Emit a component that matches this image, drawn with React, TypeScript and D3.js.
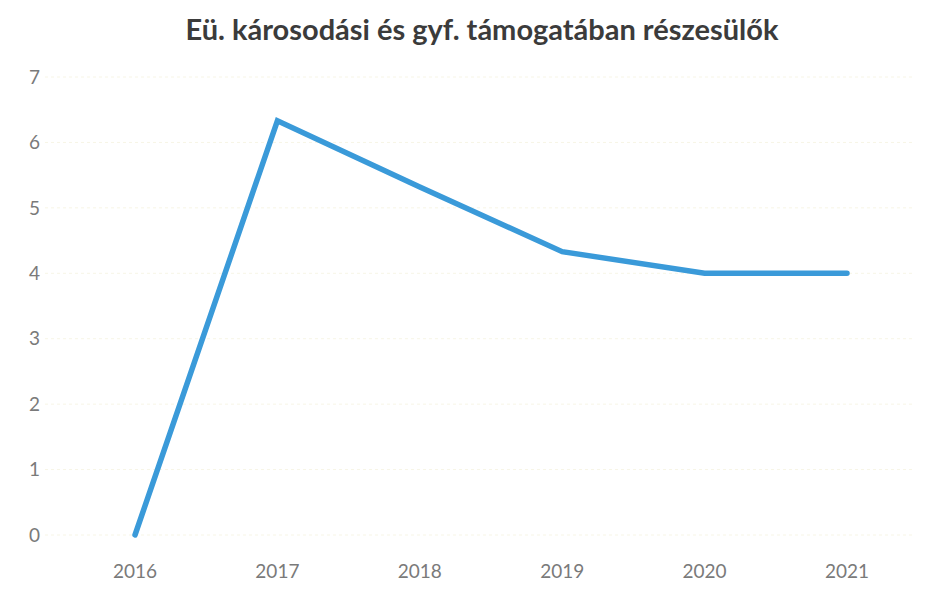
import React from "react";
import * as d3 from "d3";

const years = ["2016", "2017", "2018", "2019", "2020", "2021"];
const values = [0, 6.33, 5.32, 4.33, 4.0, 4.0];
const yTicks = [0, 1, 2, 3, 4, 5, 6, 7];
const title = "Eü. károsodási és gyf. támogatában részesülők";

export default function App() {
  const W = 938, H = 593;
  const x = d3.scalePoint<string>().domain(years).range([135, 847]);
  const y = d3.scaleLinear().domain([0, 7]).range([535, 77]);
  const line = d3.line<number>().x((_, i) => x(years[i])!).y((d) => y(d));
  return (
    <svg width={W} height={H} style={{ position: "absolute", left: 0, top: 0, background: "#fff" }}>
      <text x={482} y={40} textAnchor="middle" fontFamily="Lato, 'Open Sans', sans-serif" fontWeight={700} fontSize={29} fill="#3b3b3b">
        {title}
      </text>
      {yTicks.map((t) => (
        <g key={t}>
          <line x1={45} x2={912} y1={y(t)} y2={y(t)} stroke="#f7f5e6" strokeWidth={1} strokeDasharray="3,3" />
          <text x={40} y={y(t)} dy="0.35em" textAnchor="end" fontFamily="Lato, 'Open Sans', sans-serif" fontSize={19} fill="#7a7a7a">
            {t}
          </text>
        </g>
      ))}
      {years.map((yr) => (
        <text key={yr} x={x(yr)} y={578} textAnchor="middle" fontFamily="Lato, 'Open Sans', sans-serif" fontSize={19} fill="#7a7a7a">
          {yr}
        </text>
      ))}
      <path d={line(values)!} fill="none" stroke="#3a9ad9" strokeWidth={5.5} strokeLinejoin="miter" strokeLinecap="round" />
    </svg>
  );
}
